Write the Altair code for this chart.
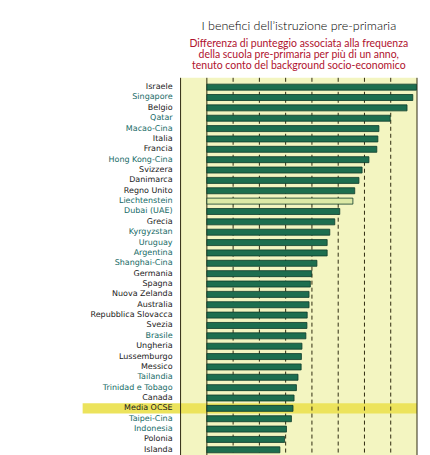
import altair as alt
import pandas as pd

countries = ["Israele", "Singapore", "Belgio", "Qatar", "Macao-Cina", "Italia", "Francia",
             "Hong Kong-Cina", "Svizzera", "Danimarca", "Regno Unito", "Liechtenstein",
             "Dubai (UAE)", "Grecia", "Kyrgyzstan", "Uruguay", "Argentina", "Shanghai-Cina",
             "Germania", "Spagna", "Nuova Zelanda", "Australia", "Repubblica Slovacca",
             "Svezia", "Brasile", "Ungheria", "Lussemburgo", "Messico", "Tailandia",
             "Trinidad e Tobago", "Canada", "Media OCSE", "Taipei-Cina", "Indonesia",
             "Polonia", "Islanda"]
values = [79.8, 78.4, 76.2, 69.8, 65.5, 65.1, 64.7, 61.7, 59.1, 57.9, 56.3, 55.6,
          50.6, 48.7, 46.8, 45.8, 45.8, 41.9, 39.9, 39.4, 38.9, 38.9, 38.2,
          38.1, 37.7, 36.2, 36.0, 35.9, 34.7, 34.1, 33.2, 32.8, 32.2, 30.3,
          29.6, 27.8]
# "oecd" = OECD country (black label), "partner" = partner economy (teal label)
groups = ["oecd", "partner", "oecd", "partner", "partner", "oecd", "oecd",
          "partner", "oecd", "oecd", "oecd", "partner",
          "partner", "oecd", "partner", "partner", "partner", "partner",
          "oecd", "oecd", "oecd", "oecd", "oecd",
          "oecd", "partner", "oecd", "oecd", "oecd", "partner",
          "partner", "oecd", "oecd", "partner", "partner",
          "oecd", "oecd"]
# Liechtenstein shown with a light bar (not significant)
significant = [c != "Liechtenstein" for c in countries]

solid_ticks = [-10, 0, 80]
dashed_ticks = [10, 20, 30, 40, 50, 60, 70]
highlight = ["Media OCSE"]

df = pd.DataFrame({"country": countries, "value": values, "group": groups,
                   "sig": ["yes" if s else "no" for s in significant]})
solid_df = pd.DataFrame({"v": solid_ticks})
dashed_df = pd.DataFrame({"v": dashed_ticks})
hl_df = pd.DataFrame({"country": highlight})

W = 236.6
H = 381.6

xscale = alt.Scale(domain=[-10, 80], nice=False, zero=False)
yscale = alt.Scale(domain=countries, paddingInner=0, paddingOuter=0.4)

band = alt.Chart(hl_df).mark_rect(color="#ece35c").encode(
    y=alt.Y("country:N", scale=yscale, axis=None),
    x=alt.value(-98), x2=alt.value(W),
)

dashed = alt.Chart(dashed_df).mark_rule(color="#2e2a10", strokeWidth=1, strokeDash=[4, 3]).encode(
    x=alt.X("v:Q", scale=xscale, axis=None),
    y=alt.value(0), y2=alt.value(H),
)
solid = alt.Chart(solid_df).mark_rule(color="#2e2a10", strokeWidth=1).encode(
    x=alt.X("v:Q", scale=xscale, axis=None),
    y=alt.value(0), y2=alt.value(H),
)

bars = alt.Chart(df).mark_bar(size=6, stroke="#0e3b2b", strokeWidth=0.8).encode(
    y=alt.Y("country:N", scale=yscale, axis=None),
    x=alt.X("value:Q", scale=xscale, axis=None),
    x2=alt.datum(0),
    fill=alt.Fill("sig:N", scale=alt.Scale(domain=["yes", "no"], range=["#1d6e4f", "#dce9a6"]), legend=None),
)

labels = alt.Chart(df).mark_text(align="right", baseline="middle", font="DejaVu Sans",
                                 fontSize=8, dx=0).encode(
    y=alt.Y("country:N", scale=yscale, axis=None),
    x=alt.value(-8),
    text="country:N",
    color=alt.Color("group:N", scale=alt.Scale(domain=["oecd", "partner"], range=["#1a1a1a", "#166a66"]), legend=None),
)

chart = alt.layer(band, dashed, solid, bars, labels).properties(
    width=W, height=H,
    autosize=alt.AutoSizeParams(type="none"),
    padding={"left": 172.7, "top": 69.7, "right": 5, "bottom": 5},
    title=alt.TitleParams(
        text="I benefici dell\u2019istruzione pre-primaria",
        subtitle=["Differenza di punteggio associata alla frequenza",
                  "della scuola pre-primaria per più di un anno,",
                  "tenuto conto del background socio-economico"],
        anchor="middle", font="Lato", fontSize=12.5, fontWeight=300, color="#000000",
        subtitleFont="Lato", subtitleFontSize=10.5, subtitleColor="#b0122e",
        subtitleLineHeight=11, subtitlePadding=6, offset=6,
    ),
).configure_view(fill="#f3f5c1", stroke=None)

chart.save("out.html", embed_options={"renderer": "svg", "actions": False})
